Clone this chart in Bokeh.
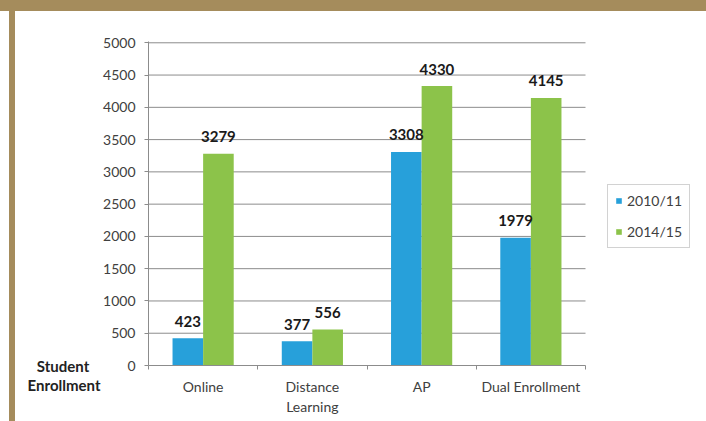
from bokeh.plotting import figure
from bokeh.models import (Range1d, FixedTicker, Legend, LegendItem, LabelSet,
                          ColumnDataSource, LinearAxis)
from bokeh.core.properties import value
from bokeh.embed import file_html
from bokeh.resources import INLINE

# ---- data ----
categories = ["Online", "Distance\nLearning", "AP", "Dual Enrollment"]
series_names = ["2010/11", "2014/15"]
values_2010 = [423, 377, 3308, 1979]
values_2014 = [3279, 556, 4330, 4145]
y_ticks = list(range(0, 5001, 500))
y_title = "\u2002\nStudent\u2002\u2005\nEnrollment"

BLUE = "#27a0da"
GREEN = "#8cc34a"
BROWN = "#a58c5c"
AXIS_GRAY = "#8c8c8c"
TEXT_GRAY = "#404040"
FONT = "Lato"

# ---- layout (pixels) ----
W, H = 706, 421
FRAME_LEFT, PLOT_RIGHT = 148, 585      # plot area drawn from 148 to 585
n = len(categories)
x_end = n * (W - FRAME_LEFT) / (PLOT_RIGHT - FRAME_LEFT)  # frame runs to the canvas edge

centers = [i + 0.5 for i in range(n)]
bw = 0.28
x_2010 = [c - bw / 2 for c in centers]
x_2014 = [c + bw / 2 for c in centers]

p = figure(width=W, height=H, output_backend="svg", toolbar_location=None,
           x_range=Range1d(0, x_end), y_range=Range1d(0, 5020),
           min_border_left=FRAME_LEFT, min_border_right=0,
           min_border_top=41, min_border_bottom=56)
p.outline_line_color = None
p.background_fill_color = "white"
p.border_fill_color = None
p.styles = {
    "background": ("linear-gradient(%s, %s) 0 0 / 100%% 11px no-repeat, "
                   "linear-gradient(%s, %s) 9px 0 / 6px 100%% no-repeat, white")
                  % (BROWN, BROWN, BROWN, BROWN)
}

# horizontal gridlines limited to the category span
grid_y = [t for t in y_ticks if t > 0]
p.segment(x0=[0] * len(grid_y), x1=[n] * len(grid_y), y0=grid_y, y1=grid_y,
          line_color=AXIS_GRAY, line_width=1)

src10 = ColumnDataSource(dict(x=x_2010, top=values_2010, label=[str(v) for v in values_2010]))
src14 = ColumnDataSource(dict(x=x_2014, top=values_2014, label=[str(v) for v in values_2014]))
r10 = p.vbar(x="x", top="top", width=bw, source=src10, fill_color=BLUE, line_color=None)
r14 = p.vbar(x="x", top="top", width=bw, source=src14, fill_color=GREEN, line_color=None)

for s in (src10, src14):
    p.add_layout(LabelSet(x="x", y="top", text="label", source=s, y_offset=17,
                          text_align="center", text_baseline="middle",
                          text_font=value(FONT), text_font_style="bold",
                          text_font_size="15px", text_color="#1a1a1a"))

# y axis
p.yaxis.ticker = FixedTicker(ticks=y_ticks)
p.yaxis.axis_line_color = AXIS_GRAY
p.yaxis.major_tick_line_color = AXIS_GRAY
p.yaxis.major_tick_out = 4
p.yaxis.major_tick_in = 0
p.yaxis.minor_tick_line_color = None
p.yaxis.major_label_standoff = 9
p.yaxis.major_label_text_font = FONT
p.yaxis.major_label_text_font_size = "14px"
p.yaxis.major_label_text_color = TEXT_GRAY

# "Student Enrollment" as a second left axis with a single labelled tick at 0
ax2 = LinearAxis(ticker=FixedTicker(ticks=[0]),
                 major_label_overrides={0: y_title})
ax2.axis_line_color = None
ax2.major_tick_line_color = None
ax2.minor_tick_line_color = None
ax2.major_tick_out = 0
ax2.major_label_standoff = 0
ax2.major_label_text_font = FONT
ax2.major_label_text_font_style = "bold"
ax2.major_label_text_font_size = "15px"
ax2.major_label_text_color = "#222222"
ax2.major_label_text_line_height = 1.11
p.add_layout(ax2, "left")

# x axis
p.xaxis.ticker = FixedTicker(ticks=centers, minor_ticks=list(range(n + 1)))
p.xaxis.bounds = (0, n)
p.xaxis.major_label_overrides = {c: lab for c, lab in zip(centers, categories)}
p.xaxis.axis_line_color = AXIS_GRAY
p.xaxis.major_tick_line_color = None
p.xaxis.major_tick_out = 0
p.xaxis.major_tick_in = 0
p.xaxis.minor_tick_line_color = AXIS_GRAY
p.xaxis.minor_tick_out = 4
p.xaxis.minor_tick_in = 0
p.xaxis.major_label_standoff = 8
p.xaxis.major_label_text_font = FONT
p.xaxis.major_label_text_font_size = "14px"
p.xaxis.major_label_text_color = TEXT_GRAY
p.xaxis.major_label_text_line_height = 1.19

p.xgrid.grid_line_color = None
p.ygrid.grid_line_color = None

legend = Legend(items=[LegendItem(label=series_names[0], renderers=[r10]),
                       LegendItem(label=series_names[1], renderers=[r14])],
                location=(459, 117))
legend.glyph_width = 7
legend.glyph_height = 7
legend.label_height = 16
legend.spacing = 14
legend.padding = 7
legend.margin = 0
legend.label_standoff = 5
legend.label_text_font = FONT
legend.label_text_font_size = "14px"
legend.label_text_color = TEXT_GRAY
legend.border_line_color = "#a6a6a6"
legend.border_line_width = 1
legend.background_fill_color = "white"
legend.background_fill_alpha = 1
p.add_layout(legend, "center")

open("out.html", "w").write(file_html(p, INLINE))
